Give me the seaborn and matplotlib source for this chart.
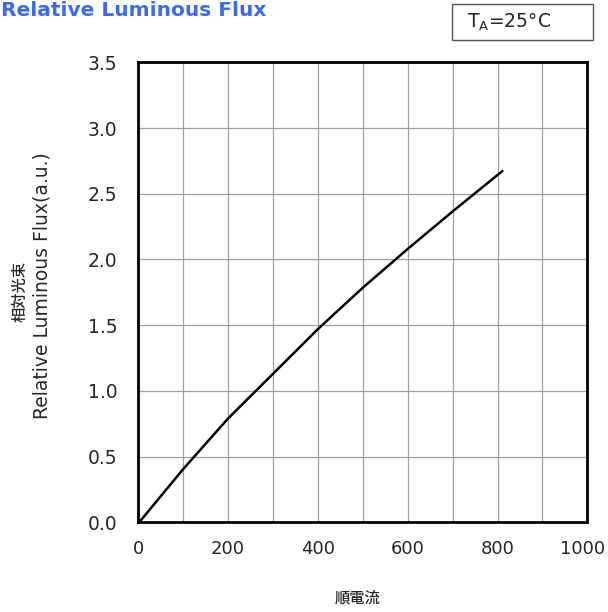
import matplotlib
matplotlib.use("Agg")
import matplotlib.pyplot as plt
import matplotlib.transforms as mtrans
import seaborn as sns
import pandas as pd
from matplotlib.patches import Rectangle

current = [2, 100, 200, 300, 400, 500, 600, 700, 811]
flux = [0.0, 0.405, 0.79, 1.13, 1.47, 1.785, 2.08, 2.365, 2.673]
xticks = [0, 200, 400, 600, 800, 1000]
yticks = [0.0, 0.5, 1.0, 1.5, 2.0, 2.5, 3.0, 3.5]

sns.set_style("white")
plt.rcParams['font.family'] = ['DejaVu Sans', 'Noto Sans CJK JP']

df = pd.DataFrame({"current": current, "flux": flux})

fig = plt.figure(figsize=(6.08, 6.12), dpi=100)
ax = fig.add_axes([138.3/608, 1-522.3/612, (587.3-138.3)/608, (522.3-62.3)/612])

sns.lineplot(data=df, x="current", y="flux", ax=ax, color="black", linewidth=1.8)

ax.set_xlim(0, 1000)
ax.set_ylim(0, 3.5)
ax.set_xticks(xticks)
ax.set_xticks(list(range(100, 1000, 200)), minor=True)
ax.set_xticklabels([str(t) for t in xticks], fontsize=13)
ax.set_yticks(yticks)
ax.set_yticklabels([f"{t:.1f}" for t in yticks], fontsize=13.5)
ax.grid(True, which="both", color="#a0a0a0", linewidth=0.9)
ax.tick_params(which="major", direction="in", length=5, width=1, color="black")
ax.tick_params(which="minor", direction="in", length=0)
ax.tick_params(axis="x", pad=13)
ax.tick_params(axis="y", pad=15)
for s in ax.spines.values():
    s.set_visible(True)
    s.set_color("black")
    s.set_linewidth(2)
ax.set_xlabel("")
ax.set_ylabel("")

last = ax.get_xticklabels()[-1]
last.set_transform(last.get_transform() + mtrans.ScaledTranslation(-5/100, 0, fig.dpi_scale_trans))

fig.text(20/608, 1-291/612, "相対光束", rotation=90, ha="center", va="center",
         fontsize=11, fontweight="medium", family=['Noto Sans CJK JP', 'DejaVu Sans'])
fig.text(42/608, 1-286/612, "Relative Luminous Flux(a.u.)", rotation=90, ha="center",
         va="center", fontsize=13.5)
fig.text(358/608, 1-598/612, "順電流", ha="center", va="center",
         fontsize=11, fontweight="medium", family=['Noto Sans CJK JP', 'DejaVu Sans'])

fig.text(1/608, 1-10/612, "Relative Luminous Flux", ha="left", va="center",
         fontsize=14.5, fontweight="bold", color="#3a6af5")

fig.patches.append(Rectangle((452/608, 1-40/612), (593-452)/608, 36/612,
                             transform=fig.transFigure, fill=False,
                             edgecolor="#555555", linewidth=1))
fig.text(467/608, 1-22/612, r"T$_\mathregular{A}$=25°C", ha="left", va="center", fontsize=13.5)

fig.savefig("out.png", dpi=100)
